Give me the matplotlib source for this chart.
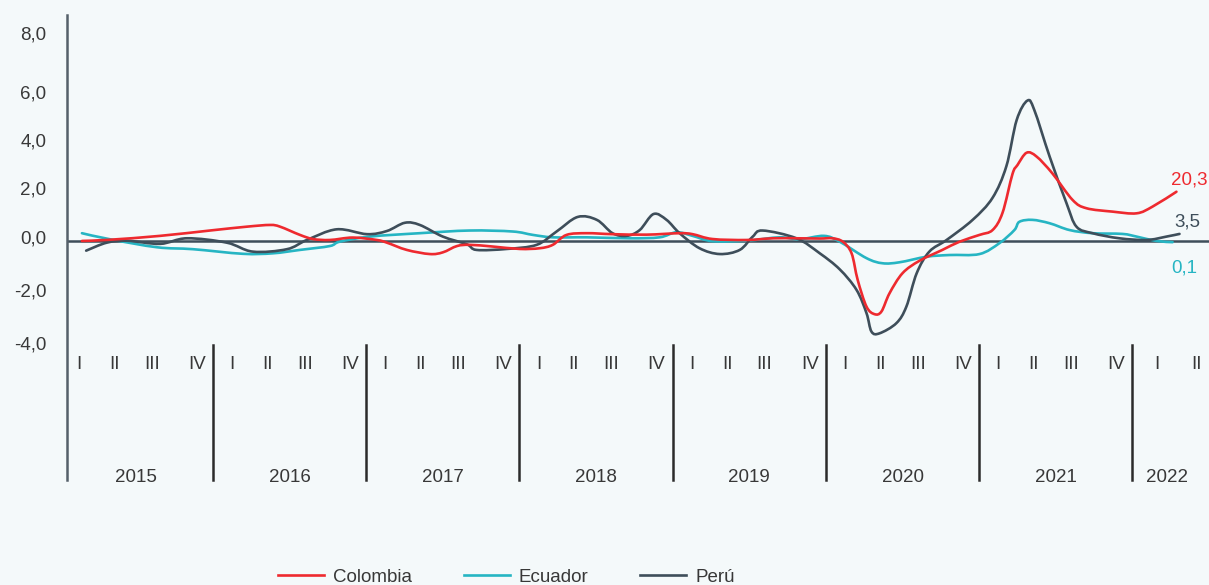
import matplotlib
matplotlib.use("Agg")
import matplotlib.pyplot as plt
from matplotlib.path import Path
from matplotlib.patches import PathPatch
from matplotlib.lines import Line2D

plt.rcParams['font.family'] = ['Liberation Sans', 'DejaVu Sans']

# ---- data (x = quarter index from start of 2015, y = value on chart scale) ----
colombia_t = [0.58, 1.31, 2.62, 3.92, 4.89, 5.49, 5.75, 6.27, 6.61, 7.05, 7.65, 8.28, 8.54,
              9.06, 9.66, 10.00, 10.37, 10.70, 11.30, 12.01, 12.53, 12.87, 13.23, 13.76, 14.43,
              15.32, 16.18, 16.52, 17.04, 17.93, 18.61, 19.23, 19.84, 20.17, 20.44, 20.67, 20.83,
              21.06, 21.27, 21.45, 21.66, 22.00, 22.44, 23.04, 23.49, 24.01, 24.35, 24.61, 24.87,
              25.00, 25.24, 25.50, 25.91, 26.44, 26.80, 27.48, 28.11, 28.53, 29.15]
colombia_v = [0.02, 0.07, 0.23, 0.45, 0.61, 0.68, 0.61, 0.27, 0.10, 0.06, 0.16, 0.06, -0.05,
              -0.35, -0.52, -0.45, -0.19, -0.14, -0.21, -0.31, -0.28, -0.14, 0.27, 0.34, 0.30,
              0.28, 0.34, 0.30, 0.10, 0.06, 0.13, 0.13, 0.12, 0.13, -0.01, -0.49, -1.59,
              -2.69, -3.00, -2.89, -2.14, -1.31, -0.80, -0.35, -0.01, 0.27, 0.47, 1.18, 2.78,
              3.15, 3.66, 3.50, 2.81, 1.71, 1.37, 1.23, 1.16, 1.44, 2.05]

ecuador_t = [0.58, 1.31, 2.54, 3.48, 4.78, 5.56, 6.27, 7.05, 7.31, 8.10, 9.40, 10.70, 11.82, 12.35,
             12.87, 13.76, 14.88, 15.66, 16.10, 16.52, 17.04, 17.93, 18.79, 19.31, 19.95,
             20.36, 21.06, 21.48, 21.92, 22.63, 23.23, 24.01, 24.53, 24.92, 25.05, 25.39, 25.84,
             26.36, 26.96, 27.74, 28.11, 28.63, 29.05]
ecuador_v = [0.34, 0.09, -0.24, -0.32, -0.51, -0.49, -0.35, -0.19, -0.01, 0.20, 0.34, 0.45, 0.41, 0.27,
             0.17, 0.17, 0.13, 0.17, 0.38, 0.23, 0.01, 0.03, 0.17, 0.09, 0.23,
             -0.01, -0.69, -0.90, -0.86, -0.63, -0.56, -0.52, -0.07, 0.47, 0.81, 0.89, 0.75,
             0.47, 0.34, 0.31, 0.20, 0.02, -0.03]

peru_t = [0.69, 1.23, 1.76, 2.62, 3.32, 4.36, 5.04, 5.93, 6.45, 7.23, 8.02, 8.54, 9.01, 9.40,
          10.00, 10.63, 10.88, 11.67, 12.45, 12.97, 13.52, 14.02, 14.43, 14.80, 15.14, 15.50,
          15.84, 16.18, 16.70, 17.23, 17.75, 18.09, 18.35, 19.23, 19.84, 20.36, 20.80, 21.06,
          21.19, 21.40, 21.84, 22.10, 22.37, 22.70, 23.15, 23.83, 24.35, 24.71, 24.98,
          25.26, 25.44, 25.84, 26.28, 26.54, 26.96, 27.66, 28.37, 28.89, 29.23]
peru_v = [-0.38, -0.05, 0.03, -0.10, 0.13, -0.05, -0.42, -0.32, 0.06, 0.50, 0.30, 0.43, 0.77, 0.68,
          0.20, -0.12, -0.35, -0.31, -0.14, 0.41, 1.01, 0.89, 0.34, 0.23, 0.47, 1.13,
          0.89, 0.34, -0.28, -0.52, -0.35, 0.20, 0.45, 0.13, -0.49, -1.15, -2.00, -2.96,
          -3.72, -3.79, -3.37, -2.69, -1.31, -0.42, 0.06, 0.89, 1.80, 3.10, 5.01,
          5.81, 5.42, 3.50, 1.58, 0.61, 0.34, 0.13, 0.06, 0.20, 0.31]

years = ['2015', '2016', '2017', '2018', '2019', '2020', '2021', '2022']
quarters = ['I', 'II', 'III', 'IV']
ytick_labels = ['8,0', '6,0', '4,0', '2,0', '0,0', '-2,0', '-4,0']
ytick_pos = [8.60, 6.16, 4.19, 2.21, 0.19, -2.00, -4.19]
series_names = ['Colombia', 'Ecuador', 'Perú']
end_labels = {'Colombia': '20,3', 'Perú': '3,5', 'Ecuador': '0,1'}

# ---- style ----
BG = '#F4F9FA'
RED = '#EE2A2F'
CYAN = '#26B5C3'
DARK = '#3E4E5A'
TXT = '#383838'
FS = 13.5


def smooth_path(xs, ys, tension=0.5):
    """Catmull-Rom curve through the given points, as cubic Bezier segments."""
    n = len(xs)
    verts = [(xs[0], ys[0])]
    codes = [Path.MOVETO]
    for i in range(n - 1):
        x0, y0 = (xs[i - 1], ys[i - 1]) if i > 0 else (xs[i], ys[i])
        x1, y1 = xs[i], ys[i]
        x2, y2 = xs[i + 1], ys[i + 1]
        x3, y3 = (xs[i + 2], ys[i + 2]) if i + 2 < n else (x2, y2)
        k = tension / 3.0
        c1 = (x1 + (x2 - x0) * k, y1 + (y2 - y0) * k)
        c2 = (x2 - (x3 - x1) * k, y2 - (y3 - y1) * k)
        verts += [c1, c2, (x2, y2)]
        codes += [Path.CURVE4] * 3
    return Path(verts, codes)


fig = plt.figure(figsize=(12.09, 5.85), dpi=100, facecolor=BG)
ax = fig.add_axes([67 / 1209, 1 - 480 / 585, 1 - 67 / 1209, 465 / 585])
ax.set_facecolor(BG)
ax.set_xlim(0.19, 30.0)
ax.set_ylim(-9.84, 9.34)

ax.axhline(0, color=DARK, lw=1.8, zorder=1)
for (xs, ys, col, z) in [(ecuador_t, ecuador_v, CYAN, 2), (peru_t, peru_v, DARK, 2),
                         (colombia_t, colombia_v, RED, 3)]:
    ax.add_patch(PathPatch(smooth_path(xs, ys), facecolor='none', edgecolor=col,
                           lw=1.9, zorder=z, capstyle='round', joinstyle='round'))

for s in ['top', 'right', 'bottom']:
    ax.spines[s].set_visible(False)
ax.spines['left'].set_color('#55606A')
ax.spines['left'].set_linewidth(1.8)

ax.set_xticks([])
ax.set_yticks(ytick_pos)
ax.set_yticklabels(ytick_labels, fontsize=FS, color=TXT)
ax.tick_params(axis='y', length=0, pad=15)

# year dividers, quarter labels, year labels
div_top = -4.27
for i, yr in enumerate(years):
    start = 4 * i
    if i > 0:
        ax.plot([start, start], [div_top, -9.84], color='#2B2B2B', lw=1.8, clip_on=False)
    if yr == '2022':
        offs = [0.63, 1.67]
        center = 28.9
    else:
        offs = [0.5, 1.42, 2.4, 3.58]
        center = start + 2.0
    for q, o in zip(quarters, offs):
        ax.text(start + o, -5.09, q, ha='center', va='center', fontsize=FS, color=TXT)
    ax.text(center, -9.72, yr, ha='center', va='center', fontsize=FS, color=TXT)

ax.text(29.02, 2.54, end_labels['Colombia'], color=RED, fontsize=FS, ha='left', va='center')
ax.text(29.1, 0.8, end_labels['Perú'], color=DARK, fontsize=FS, ha='left', va='center')
ax.text(29.02, -1.09, end_labels['Ecuador'], color=CYAN, fontsize=FS, ha='left', va='center')

handles = [Line2D([], [], color=c, lw=1.9) for c in (RED, CYAN, DARK)]
fig.legend(handles, series_names, loc='lower center',
           bbox_to_anchor=(0.419, -0.03), ncol=3, frameon=False, fontsize=FS,
           handlelength=2.45, handletextpad=0.48, columnspacing=2.75, labelcolor=TXT)

fig.savefig('out.png', dpi=100, facecolor=BG)
